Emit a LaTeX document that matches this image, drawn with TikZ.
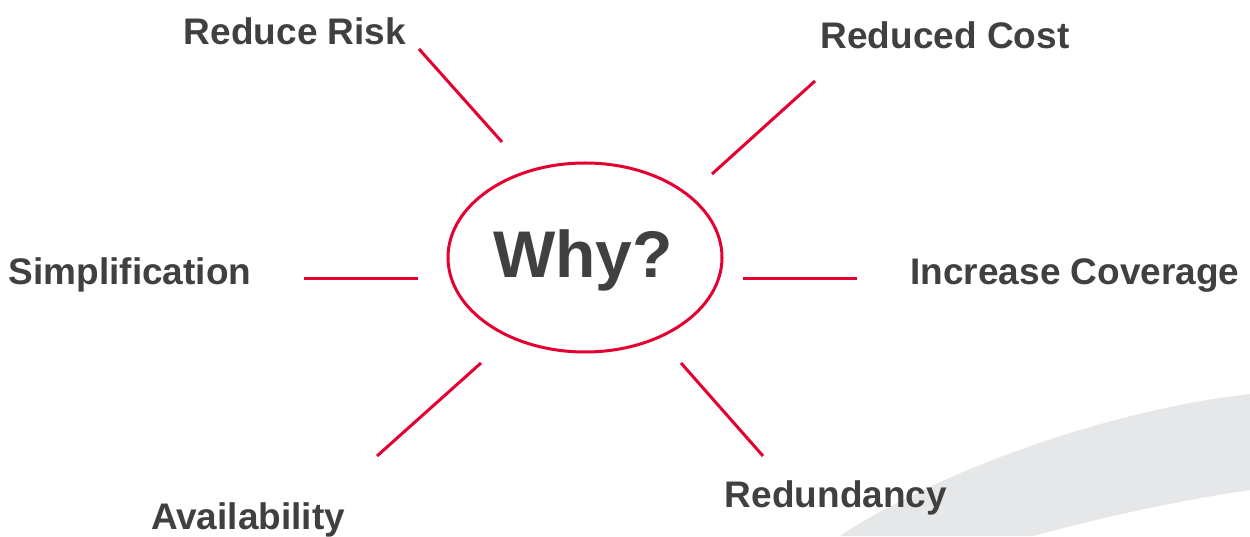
\documentclass[tikz,border=0pt]{standalone}
\usepackage{fontspec}
\setmainfont{Liberation Sans}
\usetikzlibrary{shapes.geometric}
\definecolor{whyred}{RGB}{228,0,48}
\definecolor{txtgray}{RGB}{64,64,64}
\definecolor{swoosh}{RGB}{230,231,233}
\begin{document}
\begin{tikzpicture}[x=1pt,y=1pt,
  lbl/.style={anchor=base,text=txtgray,font=\fontsize{37}{40}\selectfont\bfseries,inner sep=0pt},
  ray/.style={draw=whyred,line width=3pt},
  hub/.style={ellipse,draw=whyred,line width=3pt,minimum width=274pt,minimum height=189pt,inner sep=0pt}]
\useasboundingbox (0,0) rectangle (1250,536);
% background swoosh
\fill[swoosh] (840,0) .. controls (930,60) and (1100,125) .. (1250,142)
  -- (1250,46) .. controls (1170,34) and (1100,18) .. (1033,0) -- cycle;
% hub
\node[hub] (hub) at (585,278.5) {};
\node[anchor=base,text=txtgray,font=\fontsize{66}{70}\selectfont\bfseries,inner sep=0pt] (why) at (583,258) {Why?};
% labels
\node[lbl] (risk) at (295,491) {Reduce Risk};
\node[lbl] (cost) at (945,487) {Reduced Cost};
\node[lbl] (simp) at (130,251) {Simplification};
\node[lbl] (cov) at (1075,251) {Increase Coverage};
\node[lbl] (avail) at (248,7) {Availability};
\node[lbl] (red) at (836,29) {Redundancy};
% ray end points
\coordinate (r1a) at (419,487); \coordinate (r1b) at (502,394);
\coordinate (r2a) at (815,455); \coordinate (r2b) at (712,362);
\coordinate (r3a) at (304,257); \coordinate (r3b) at (418,257);
\coordinate (r4a) at (743,257); \coordinate (r4b) at (857,257);
\coordinate (r5a) at (481,173); \coordinate (r5b) at (377,80);
\coordinate (r6a) at (681,173); \coordinate (r6b) at (763,80);
\draw[ray] (r1a) -- (r1b);
\draw[ray] (r2a) -- (r2b);
\draw[ray] (r3a) -- (r3b);
\draw[ray] (r4a) -- (r4b);
\draw[ray] (r5a) -- (r5b);
\draw[ray] (r6a) -- (r6b);
\end{tikzpicture}
\end{document}
